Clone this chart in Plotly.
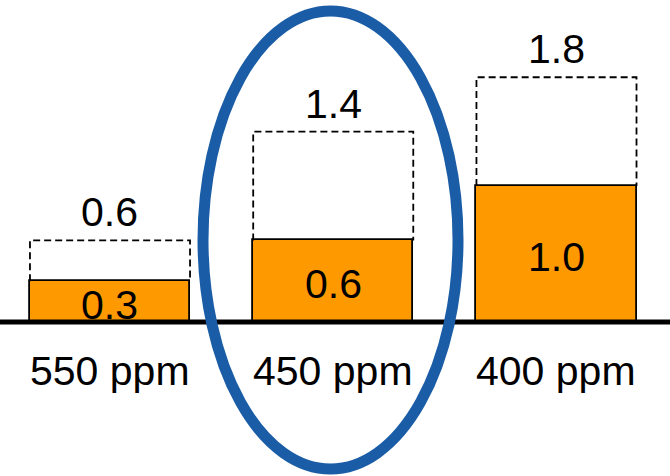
import plotly.graph_objects as go

categories = ["550 ppm", "450 ppm", "400 ppm"]
filled_values = [0.3, 0.6, 1.0]
total_values = [0.6, 1.4, 1.8]
positions = [0, 1, 2]

BAR_W = 0.717
FONT = "Arial, Liberation Sans, sans-serif"

fig = go.Figure()

# filled orange bars
fig.add_trace(go.Bar(
    x=positions, y=filled_values, width=BAR_W,
    marker=dict(color="#FF9900", line=dict(color="black", width=1.8)),
    hoverinfo="skip", showlegend=False,
))

# dashed outlines (open at bottom, resting on filled bar top)
xs, ys = [], []
for p, f, t in zip(positions, filled_values, total_values):
    xs += [p - BAR_W / 2, p - BAR_W / 2, p + BAR_W / 2, p + BAR_W / 2, None]
    ys += [f, t, t, f, None]
fig.add_trace(go.Scatter(
    x=xs, y=ys, mode="lines",
    line=dict(color="black", width=1.8, dash="7px,4px"),
    hoverinfo="skip", showlegend=False,
))

# value labels
for p, f, t in zip(positions, filled_values, total_values):
    fig.add_annotation(x=p, y=t, text=f"{t:.1f}", showarrow=False,
                       yanchor="bottom", yshift=3,
                       font=dict(family=FONT, size=41, color="black"))
    fig.add_annotation(x=p, y=f / 2, text=f"{f:.1f}", showarrow=False,
                       yanchor="middle", yshift=-3,
                       font=dict(family=FONT, size=41, color="black"))

# category labels
for p, c in zip(positions, categories):
    fig.add_annotation(x=p, y=-0.36, text=c, showarrow=False,
                       yanchor="middle",
                       font=dict(family=FONT, size=41, color="black"))

# baseline
fig.add_shape(type="line", xref="paper", yref="y", x0=0, x1=1, y0=0, y1=0,
              line=dict(color="black", width=5), layer="above")

# highlight ellipse around middle bar
fig.add_shape(type="circle", xref="paper", yref="paper",
              x0=203 / 670, x1=458 / 670, y0=1 - 469 / 476, y1=1 - 11 / 476,
              line=dict(color="#1A5DA6", width=11), layer="above")

fig.update_layout(
    width=670, height=476,
    margin=dict(l=0, r=0, t=0, b=0),
    paper_bgcolor="white", plot_bgcolor="white",
    xaxis=dict(range=[-0.4927, 2.5085], visible=False, fixedrange=True),
    yaxis=dict(range=[-1.132, 2.368], visible=False, fixedrange=True),
    bargap=0,
)

fig.write_html("out.html", config={"displayModeBar": False})
